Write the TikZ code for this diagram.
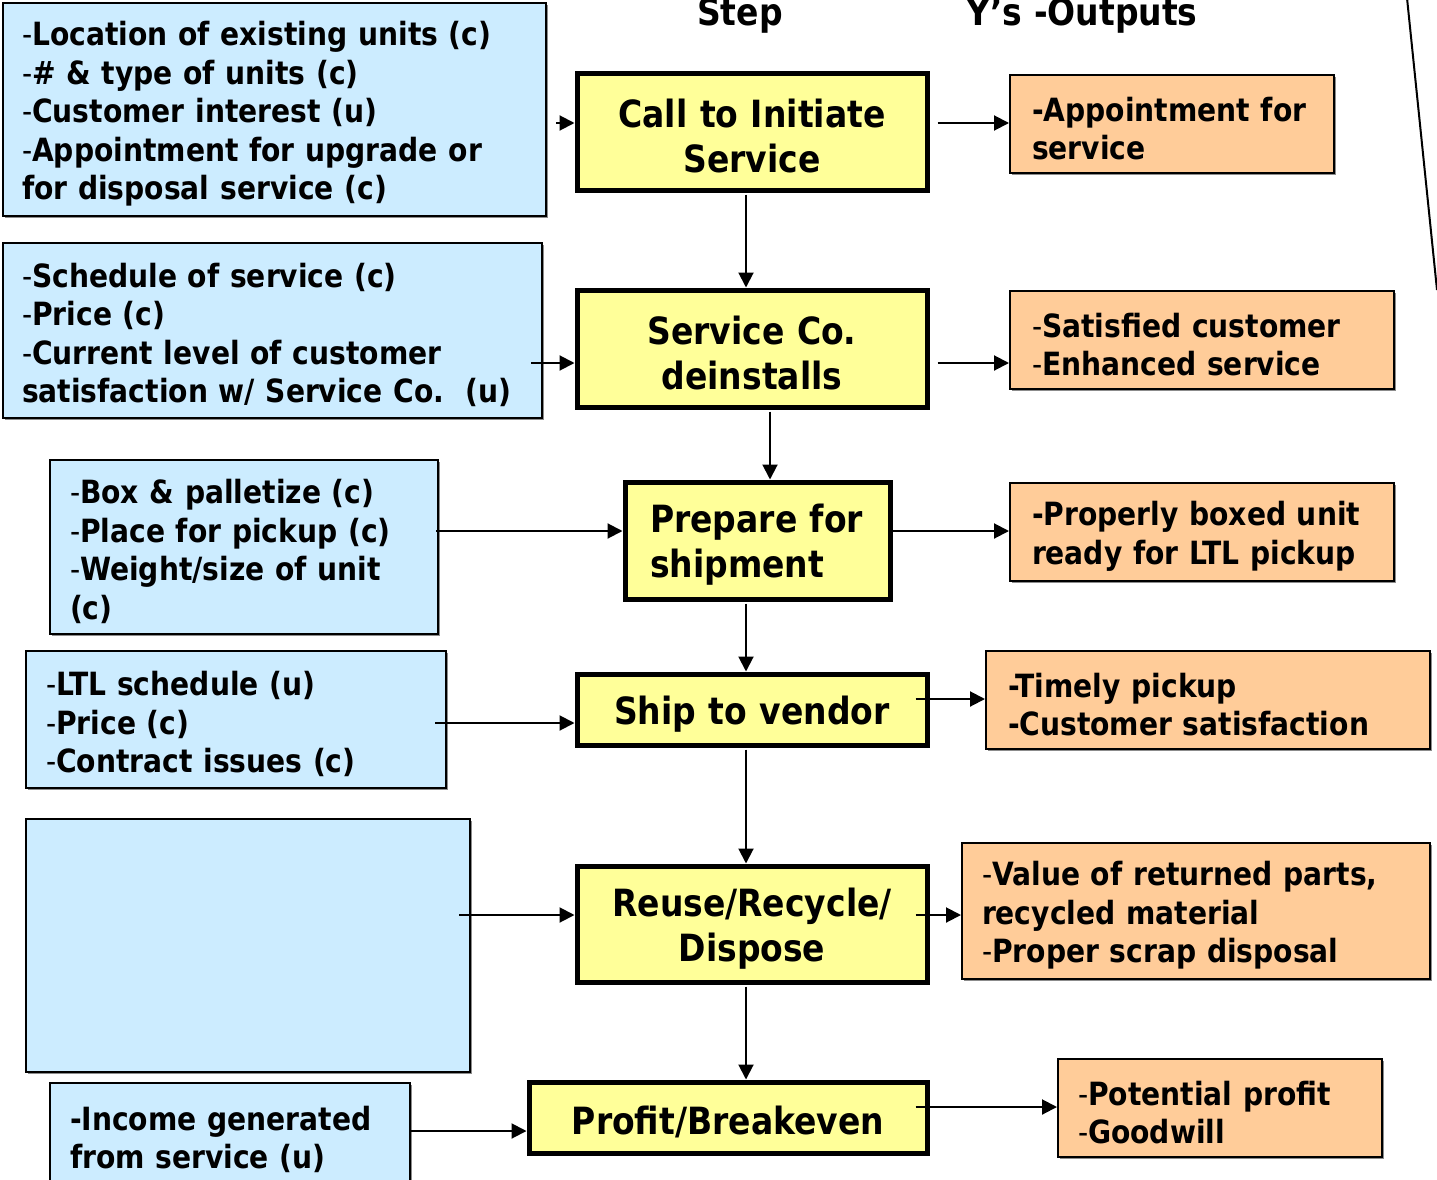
\documentclass[tikz,border=0pt]{standalone}
\usepackage{fontspec}
\setmainfont{DejaVu Sans}[FakeStretch=0.88]
\usetikzlibrary{arrows.meta,shadows}
\definecolor{inblue}{HTML}{CCECFF}
\definecolor{stepyellow}{HTML}{FFFF99}
\definecolor{outorange}{HTML}{FFCC99}
\newcommand\td{\textmd{-}}
\newcommand\inputfont{\fontsize{32}{38.5}\selectfont\bfseries}
\newcommand\stepfont{\fontsize{37.5}{45}\selectfont\bfseries}
% #1 name, #2 box style, #3-#6 x1 y1 x2 y2, #7 horizontal padding, #8 text style, #9 text
\newcommand\mybox[9]{%
  \pgfmathsetmacro\bw{#5-#3}\pgfmathsetmacro\bh{#6-#4}%
  \pgfmathsetmacro\bcx{(#3+#5)/2}\pgfmathsetmacro\bcy{(#4+#6)/2}%
  \pgfmathsetmacro\tw{#5-#3-#7}%
  \node[#2, minimum width=\bw pt, minimum height=\bh pt] (#1) at (\bcx,\bcy) {};
  \node[#8, text width=\tw pt] (#1-t) at ([yshift=-4.5pt]#1.center) {#9};}
\begin{document}
\begin{tikzpicture}[x=1pt,y=-1pt,
  shade/.style={drop shadow={shadow xshift=2pt,shadow yshift=-2pt,fill=black!45,opacity=1}},
  inbox/.style={draw=black,line width=2pt,fill=inblue,inner sep=0pt,shade},
  outbox/.style={draw=black,line width=2pt,fill=outorange,inner sep=0pt,shade},
  stepbox/.style={draw=black,line width=5pt,fill=stepyellow,inner sep=0pt,shade},
  intext/.style={inner sep=0pt,align=left,font=\inputfont},
  steptext/.style={inner sep=0pt,align=center,font=\stepfont},
  header/.style={anchor=base,font=\stepfont,inner sep=0pt},
  arr/.style={line width=2pt,-{Triangle[length=15pt,width=15pt]}},
  plain/.style={line width=2pt}]
\useasboundingbox[fill=white] (0,0) rectangle (1437,1180);

% headers
\node[header] (hstep) at (740,26) {Step};
\node[header] (hout) at (1082,26) {Y’s -Outputs};

% input boxes
\mybox{b1}{inbox}{3}{3}{546}{216}{38}{intext}{\td Location of existing units (c)\\\td\# \& type of units (c)\\\td Customer interest (u)\\\td Appointment for upgrade or\\for disposal service (c)}
\mybox{b2}{inbox}{3}{243}{542}{418}{38}{intext}{\td Schedule of service (c)\\\td Price (c)\\\td Current level of customer\\satisfaction w/ Service Co.\ \ (u)}
\mybox{b3}{inbox}{50}{460}{438}{634}{40}{intext}{\td Box \& palletize (c)\\\td Place for pickup (c)\\\td Weight/size of unit\\(c)}
\mybox{b4}{inbox}{26}{651}{446}{788}{40}{intext}{\td LTL schedule (u)\\\td Price (c)\\\td Contract issues (c)}
\mybox{b5}{inbox}{26}{819}{470}{1072}{40}{intext}{}
\mybox{b6}{inbox}{50}{1083}{410}{1187}{40}{intext}{-Income generated\\from service (u)}

% step boxes
\mybox{s1}{stepbox}{577}{74}{927}{190}{10}{steptext}{Call to Initiate\\Service}
\mybox{s2}{stepbox}{577}{290}{927}{407}{10}{steptext}{Service Co.\\deinstalls}
\mybox{s3}{stepbox}{625}{482}{890}{599}{50}{steptext,align=left}{Prepare for\\shipment}
\mybox{s4}{stepbox}{577}{674}{927}{745}{10}{steptext}{Ship to vendor}
\mybox{s5}{stepbox}{577}{866}{927}{982}{10}{steptext}{Reuse/Recycle/\\Dispose}
\mybox{s6}{stepbox}{529}{1082}{927}{1153}{10}{steptext}{Profit/Breakeven}

% output boxes
\mybox{o1}{outbox}{1010}{75}{1334}{173}{44}{intext}{-Appointment for\\service}
\mybox{o2}{outbox}{1010}{291}{1394}{389}{44}{intext}{\td Satisfied customer\\\td Enhanced service}
\mybox{o3}{outbox}{1010}{483}{1394}{581}{44}{intext}{-Properly boxed unit\\ready for LTL pickup}
\mybox{o4}{outbox}{986}{651}{1430}{749}{44}{intext}{-Timely pickup\\-Customer satisfaction}
\mybox{o5}{outbox}{962}{843}{1430}{979}{40}{intext}{\td Value of returned parts,\\recycled material\\\td Proper scrap disposal}
\mybox{o6}{outbox}{1058}{1059}{1382}{1157}{40}{intext}{\td Potential profit\\\td Goodwill}

% inputs to steps
\draw[arr,shorten <=9pt] (b1.east |- 0,123) -- (s1.west |- 0,123);
\draw[arr,shorten <=-12pt] (b2.east |- 0,363) -- (s2.west |- 0,363);
\draw[arr,shorten <=-3pt] (b3.east |- 0,531) -- (s3.west |- 0,531);
\draw[arr,shorten <=-12pt] (b4.east |- 0,723) -- (s4.west |- 0,723);
\draw[arr,shorten <=-12pt] (b5.east |- 0,915) -- (s5.west |- 0,915);
\draw[arr] (b6.east |- 0,1131) -- (s6.west |- 0,1131);

% steps to outputs
\draw[arr,shorten <=8pt] (s1.east |- 0,123) -- (o1.west |- 0,123);
\draw[arr,shorten <=8pt] (s2.east |- 0,363) -- (o2.west |- 0,363);
\draw[arr] (s3.east |- 0,531) -- (o3.west |- 0,531);
\draw[arr,shorten <=-14pt] (s4.east |- 0,699) -- (o4.west |- 0,699);
\draw[arr,shorten <=-14pt] (s5.east |- 0,915) -- (o5.west |- 0,915);
\draw[arr,shorten <=-14pt] (s6.east |- 0,1107) -- (o6.west |- 0,1107);

% step to step
\draw[arr,shorten <=2pt] (s1.south -| 746,0) -- (s2.north -| 746,0);
\draw[arr,shorten <=2pt] (s2.south -| 770,0) -- (s3.north -| 770,0);
\draw[arr,shorten <=2pt] (s3.south -| 746,0) -- (s4.north -| 746,0);
\draw[arr,shorten <=2pt] (s4.south -| 746,0) -- (s5.north -| 746,0);
\draw[arr,shorten <=2pt] (s5.south -| 746,0) -- (s6.north -| 746,0);

% diagonal line at top right
\coordinate (d1) at (1407,-2);
\coordinate (d2) at (1437,290);
\draw[plain] (d1) -- (d2);
\end{tikzpicture}
\end{document}
